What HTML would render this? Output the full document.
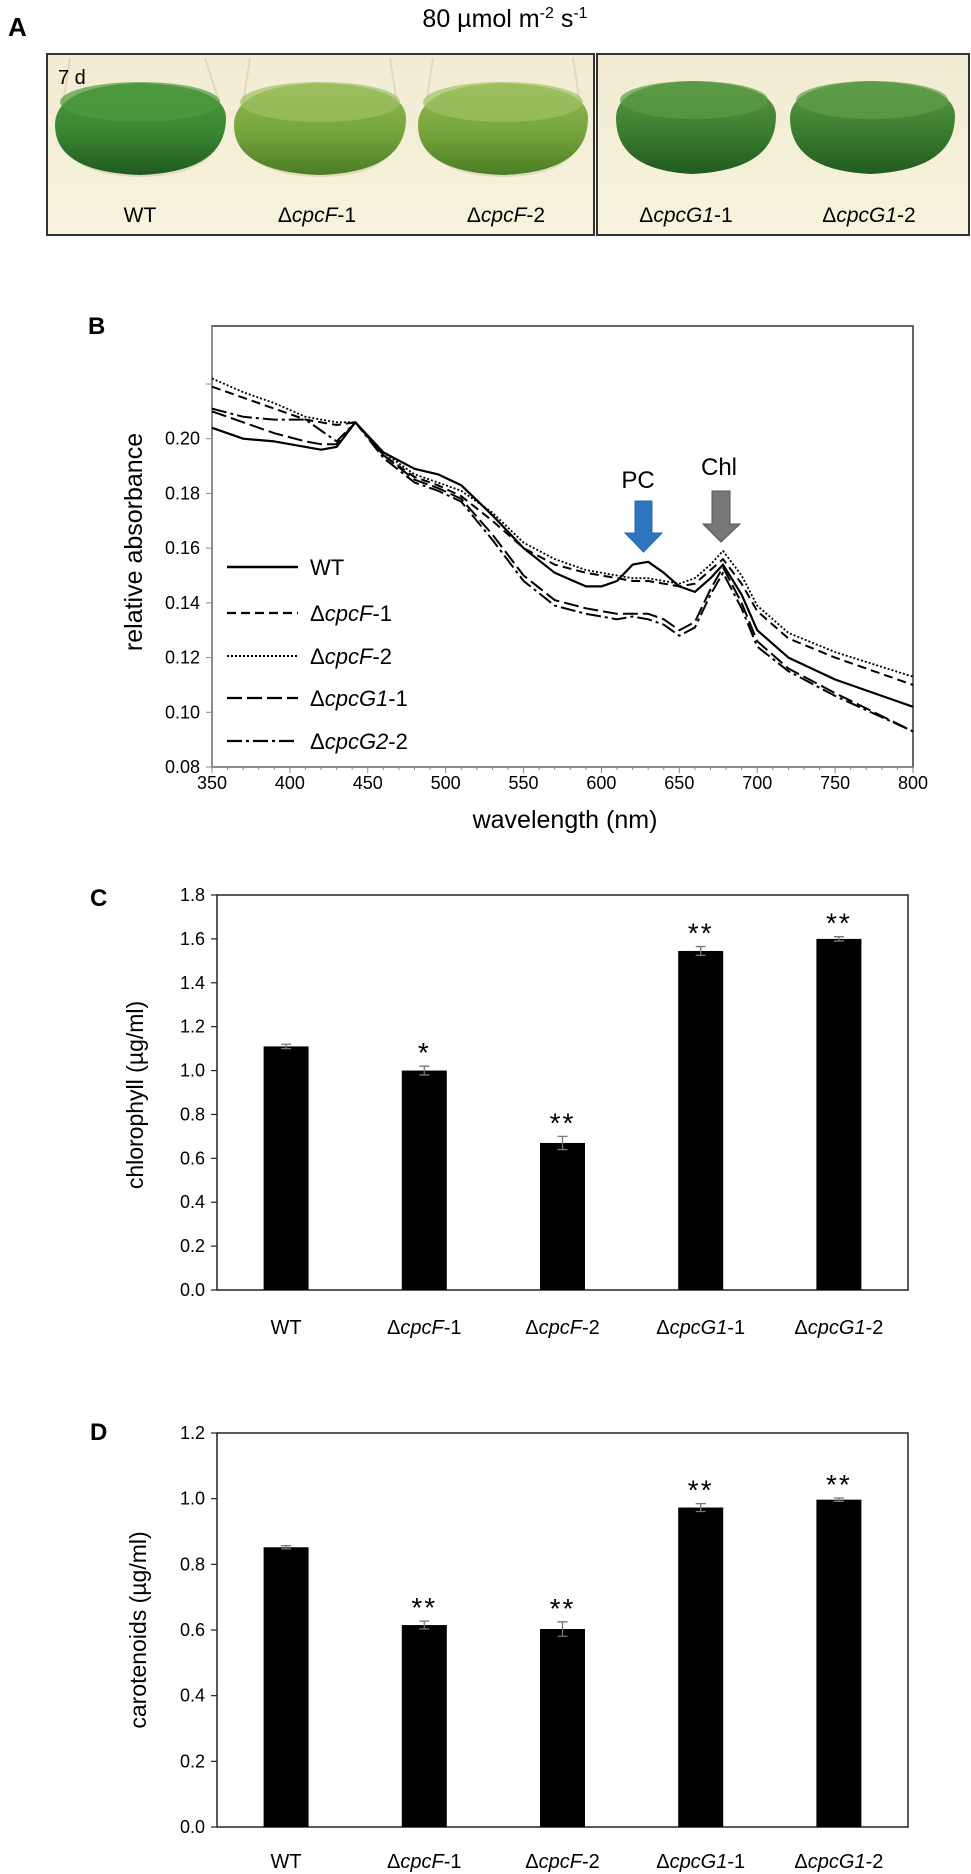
<!DOCTYPE html>
<html><head><meta charset="utf-8"><style>
html,body{margin:0;padding:0;background:#fff;}
svg{display:block;font-family:"Liberation Sans",sans-serif;}
</style></head><body>
<svg id="fig" width="971" height="1874" viewBox="0 0 971 1874" xmlns="http://www.w3.org/2000/svg">
<defs>
<linearGradient id="gWT" x1="0" y1="0" x2="0" y2="1"><stop offset="0" stop-color="#4f9a3c"/><stop offset="0.55" stop-color="#3a8532"/><stop offset="1" stop-color="#1f5a1f"/></linearGradient>
<linearGradient id="gF" x1="0" y1="0" x2="0" y2="1"><stop offset="0" stop-color="#93b955"/><stop offset="0.55" stop-color="#76a43c"/><stop offset="1" stop-color="#4a7d24"/></linearGradient>
<linearGradient id="gG" x1="0" y1="0" x2="0" y2="1"><stop offset="0" stop-color="#5d9a44"/><stop offset="0.55" stop-color="#3b7d30"/><stop offset="1" stop-color="#215a1f"/></linearGradient>
<linearGradient id="bg" x1="0" y1="0" x2="0" y2="1"><stop offset="0" stop-color="#f1ecd2"/><stop offset="1" stop-color="#f7f3dc"/></linearGradient>
</defs>
<!-- Panel A -->
<text x="8" y="36" font-size="26" font-weight="bold">A</text>
<text x="505" y="27" font-size="25" text-anchor="middle">80 µmol m<tspan dy="-9" font-size="16">-2</tspan><tspan dy="9"> s</tspan><tspan dy="-9" font-size="16">-1</tspan></text>
<g>
<rect x="47" y="54" width="547" height="181" fill="url(#bg)" stroke="#333" stroke-width="2"/>
<g>
<path d="M70,58 L62,110 Q50,175 140,176 Q230,175 222,110 L205,58" fill="none" stroke="#e2d9c0" stroke-width="2"/>
<path d="M55,125 Q55,86 140,83 Q226,86 226,118 Q226,172 140,175 Q55,172 55,125Z" fill="url(#gWT)"/>
<ellipse cx="140" cy="102" rx="80" ry="20" fill="#4d9a3f" opacity="0.7"/>
</g>
<g>
<path d="M250,58 L242,110 Q230,175 320,176 Q410,175 398,110 L390,58" fill="none" stroke="#e2d9c0" stroke-width="2"/>
<path d="M234,125 Q234,86 320,83 Q406,86 406,118 Q406,172 320,175 Q234,172 234,125Z" fill="url(#gF)"/>
<ellipse cx="320" cy="102" rx="80" ry="20" fill="#9ec062" opacity="0.7"/>
</g>
<g>
<path d="M433,58 L425,110 Q413,175 503,176 Q593,175 581,110 L573,58" fill="none" stroke="#e2d9c0" stroke-width="2"/>
<path d="M418,125 Q418,86 503,83 Q588,86 588,118 Q588,172 503,175 Q418,172 418,125Z" fill="url(#gF)"/>
<ellipse cx="503" cy="102" rx="80" ry="20" fill="#a0c265" opacity="0.7"/>
</g>
<text x="58" y="84" font-size="20">7 d</text>
<text x="140" y="222" font-size="21" text-anchor="middle">WT</text>
<text x="317" y="222" font-size="21" text-anchor="middle">Δ<tspan font-style="italic">cpcF</tspan>-1</text>
<text x="506" y="222" font-size="21" text-anchor="middle">Δ<tspan font-style="italic">cpcF</tspan>-2</text>
</g>
<g>
<rect x="597" y="54" width="372" height="181" fill="url(#bg)" stroke="#333" stroke-width="2"/>
<g>
<path d="M616,118 Q616,84 692,81 Q776,84 776,116 Q776,170 692,174 Q616,170 616,118Z" fill="url(#gG)"/>
<ellipse cx="694" cy="100" rx="74" ry="19" fill="#5a9b45" opacity="0.7"/>
</g>
<g>
<path d="M790,118 Q790,84 870,81 Q955,84 955,116 Q955,170 870,174 Q790,170 790,118Z" fill="url(#gG)"/>
<ellipse cx="872" cy="100" rx="76" ry="19" fill="#5f9e48" opacity="0.7"/>
</g>
<text x="686" y="222" font-size="21" text-anchor="middle">Δ<tspan font-style="italic">cpcG1</tspan>-1</text>
<text x="869" y="222" font-size="21" text-anchor="middle">Δ<tspan font-style="italic">cpcG1</tspan>-2</text>
</g>
<!-- Panel labels -->
<text x="88" y="334" font-size="24" font-weight="bold">B</text>
<text x="90" y="906" font-size="24" font-weight="bold">C</text>
<text x="90" y="1440" font-size="24" font-weight="bold">D</text>
<g id="chartB"></g>
<g id="chartC"></g>
<g id="chartD"></g>
</svg>
<script>
// ---- Panel B data ----
const wavelengths = [350,370,390,410,420,430,442,460,480,495,510,530,550,570,590,600,610,620,630,640,650,660,670,678,690,700,720,750,800];
const absWT  = [0.204,0.200,0.199,0.197,0.196,0.197,0.206,0.195,0.189,0.187,0.183,0.172,0.160,0.151,0.146,0.146,0.148,0.154,0.155,0.151,0.146,0.144,0.149,0.154,0.143,0.130,0.120,0.112,0.102];
const absF1  = [0.219,0.215,0.211,0.207,0.206,0.205,0.206,0.194,0.186,0.183,0.179,0.170,0.160,0.154,0.151,0.150,0.149,0.148,0.148,0.147,0.146,0.147,0.152,0.156,0.147,0.137,0.127,0.120,0.110];
const absF2  = [0.222,0.217,0.213,0.208,0.207,0.206,0.206,0.195,0.187,0.184,0.181,0.173,0.162,0.156,0.152,0.151,0.150,0.149,0.149,0.148,0.147,0.149,0.154,0.159,0.150,0.139,0.129,0.122,0.113];
const absG1  = [0.210,0.206,0.202,0.199,0.198,0.198,0.206,0.194,0.185,0.182,0.178,0.165,0.150,0.141,0.138,0.137,0.136,0.136,0.136,0.134,0.130,0.133,0.145,0.153,0.140,0.126,0.116,0.107,0.093];
const absG2  = [0.211,0.208,0.207,0.207,0.203,0.199,0.206,0.193,0.184,0.181,0.177,0.163,0.148,0.139,0.136,0.135,0.134,0.135,0.134,0.132,0.128,0.131,0.143,0.151,0.138,0.124,0.115,0.106,0.093];
const bYTicks = ["0.08","0.10","0.12","0.14","0.16","0.18","0.20"];
const bXTicks = ["350","400","450","500","550","600","650","700","750","800"];
// ---- Panel C/D data ----
const strains = ["WT","cpcF-1","cpcF-2","cpcG1-1","cpcG1-2"];
const chlValues = [1.11,1.00,0.67,1.545,1.60];
const chlErrors = [0.01,0.02,0.03,0.02,0.01];
const chlStars  = ["","*","**","**","**"];
const carValues = [0.852,0.615,0.603,0.973,0.997];
const carErrors = [0.005,0.012,0.022,0.012,0.005];
const carStars  = ["","**","**","**","**"];
const chlYTicks = ["0.0","0.2","0.4","0.6","0.8","1.0","1.2","1.4","1.6","1.8"];
const carYTicks = ["0.0","0.2","0.4","0.6","0.8","1.0","1.2"];

const NS="http://www.w3.org/2000/svg";
function mk(parent,tag,attrs){const e=document.createElementNS(NS,tag);for(const k in attrs)e.setAttribute(k,attrs[k]);parent.appendChild(e);return e;}

// ---- Chart B ----
(function(){
const g=document.getElementById('chartB');
const L=212,R=913,T=326,B=767,x0=350,x1=800,y0=0.08,y1=0.2412;
const xs=v=>L+(v-x0)/(x1-x0)*(R-L);
const ys=v=>B-(v-y0)/(y1-y0)*(B-T);
const frame=mk(g,'rect',{x:L,y:T,width:R-L,height:B-T,fill:'none',stroke:'#333','stroke-width':1.5});


for(let w=x0;w<=x1;w+=10){const major=(w%50===0);const t=mk(g,'line',{x1:xs(w),x2:xs(w),y1:B,y2:B+(major?6:3),stroke:'#888','stroke-width':1});

}
bXTicks.forEach(s=>{const t=mk(g,'text',{x:xs(+s),y:B+22,'font-size':18,'text-anchor':'middle'});t.textContent=s;

});
const yt=bYTicks.concat(["0.22"]);
yt.forEach((s,i)=>{const v=+s;const t=mk(g,'line',{x1:L-6,x2:L,y1:ys(v),y2:ys(v),stroke:'#888','stroke-width':1});


if(i<bYTicks.length){const tx=mk(g,'text',{x:L-12,y:ys(v)+6,'font-size':18,'text-anchor':'end'});tx.textContent=s;

}});
const ax=mk(g,'path',{d:`M${L},${T}V${B}H${R}`,fill:'none',stroke:'#888','stroke-width':1.5});


const xl=mk(g,'text',{x:565,y:828,'font-size':25,'text-anchor':'middle'});xl.textContent='wavelength (nm)';


const yl=mk(g,'text',{x:0,y:0,'font-size':25,'text-anchor':'middle',transform:'translate(142,542) rotate(-90)'});yl.textContent='relative absorbance';


const series=[
 {d:absWT,dash:'',w:2.2,name:'series-wt',label:['WT','','']},
 {d:absF1,dash:'9 5',w:2,name:'series-cpcf-1',label:['Δ','cpcF','-1']},
 {d:absF2,dash:'2 2',w:1.8,name:'series-cpcf-2',label:['Δ','cpcF','-2']},
 {d:absG1,dash:'15 5',w:2,name:'series-cpcg1-1',label:['Δ','cpcG1','-1']},
 {d:absG2,dash:'15 4 3 4',w:2,name:'series-cpcg2-2',label:['Δ','cpcG2','-2']}];
const ly=[567,613,656,698,741];
series.forEach((s,i)=>{
 const d=s.d.map((v,j)=>(j?'L':'M')+xs(wavelengths[j]).toFixed(1)+','+ys(v).toFixed(1)).join('');
 const p=mk(g,'path',{d:d,fill:'none',stroke:'#000','stroke-width':s.w,'stroke-dasharray':s.dash,'stroke-linejoin':'round'});
 
 
 const ll=mk(g,'line',{x1:227,x2:298,y1:ly[i],y2:ly[i],stroke:'#000','stroke-width':s.w+0.3,'stroke-dasharray':s.dash});
 
 
 const t=mk(g,'text',{x:310,y:ly[i]+8,'font-size':22});
 
 
 t.appendChild(document.createTextNode(s.label[0]));
 if(s.label[1]){const ts=mk(t,'tspan',{'font-style':'italic'});ts.textContent=s.label[1];t.appendChild(document.createTextNode(s.label[2]));}
});
const pc=mk(g,'path',{d:'M635,501H652V533H662L643.5,552L625,533H635Z',fill:'#2e75c0',stroke:'#2a66a8','stroke-width':1});


const pct=mk(g,'text',{x:638,y:488,'font-size':24,'text-anchor':'middle'});pct.textContent='PC';


const ch=mk(g,'path',{d:'M712,491H730V524H740L721,542L703,524H712Z',fill:'#777',stroke:'#555','stroke-width':1});


const cht=mk(g,'text',{x:719,y:475,'font-size':24,'text-anchor':'middle'});cht.textContent='Chl';


})();

// ---- Bar charts ----
function barChart(id,T,B,ymax,vals,errs,stars,ticks,ytitle,ytx,yty,labY,prefix){
 const g=document.getElementById(id);
 const L=217,R=908;
 const ys=v=>B-v/ymax*(B-T);
 const bw=(R-L)/strains.length;
 const fr=mk(g,'rect',{x:L,y:T,width:R-L,height:B-T,fill:'none',stroke:'#222','stroke-width':1.5});
 
 
 ticks.forEach(s=>{const v=+s;
  const t=mk(g,'line',{x1:L-6,x2:L,y1:ys(v),y2:ys(v),stroke:'#222','stroke-width':1.2});
  
  
  const tx=mk(g,'text',{x:L-12,y:ys(v)+6,'font-size':18,'text-anchor':'end'});tx.textContent=s;
  
  });
 vals.forEach((v,i)=>{
  const cx=L+bw*(i+0.5);
  const r=mk(g,'rect',{x:cx-22.5,y:ys(v),width:45,height:B-ys(v),fill:'#000'});
  
  
  const e=errs[i];
  const eb=mk(g,'path',{d:`M${cx},${ys(v+e)}V${ys(v-e)}M${cx-5},${ys(v+e)}H${cx+5}M${cx-5},${ys(v-e)}H${cx+5}`,stroke:'#777','stroke-width':1.3,fill:'none'});
  
  
  if(stars[i]){const st=mk(g,'text',{x:cx,y:ys(v+e)-4,'font-size':28,'text-anchor':'middle','letter-spacing':'2'});st.textContent=stars[i];
   
   }
  const lb=mk(g,'text',{x:cx,y:labY,'font-size':20,'text-anchor':'middle'});
  
  
  if(strains[i]==='WT'){lb.textContent='WT';}else{const p=strains[i].split('-');lb.appendChild(document.createTextNode('Δ'));const ts=mk(lb,'tspan',{'font-style':'italic'});ts.textContent=p[0];lb.appendChild(document.createTextNode('-'+p[1]));}
 });
 const yl=mk(g,'text',{x:0,y:0,'font-size':23,'text-anchor':'middle',transform:`translate(${ytx},${yty}) rotate(-90)`});yl.textContent=ytitle;
 
 
}
barChart('chartC',895,1290,1.8,chlValues,chlErrors,chlStars,chlYTicks,'chlorophyll (µg/ml)',143,1095,1334,'chl');
barChart('chartD',1433,1827,1.2,carValues,carErrors,carStars,carYTicks,'carotenoids (µg/ml)',146,1630,1868,'car');
</script>
</body></html>
